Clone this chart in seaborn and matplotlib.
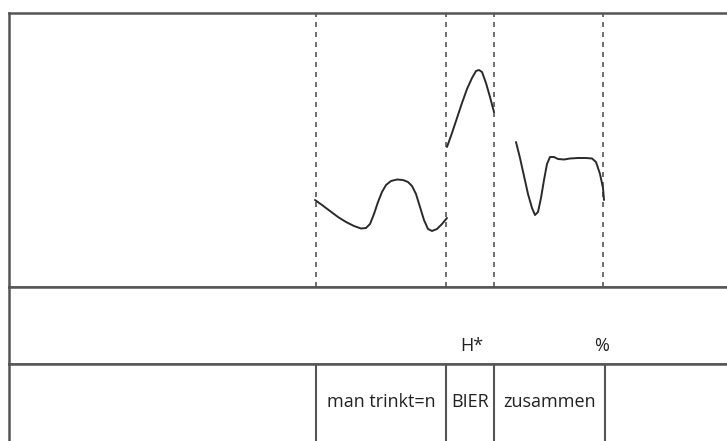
import numpy as np
import pandas as pd
import matplotlib
matplotlib.use("Agg")
import matplotlib.pyplot as plt
import seaborn as sns

sns.set_theme(style="white")
plt.rcParams['font.family'] = ['Open Sans', 'DejaVu Sans']

# F0 contour (time in ms, pitch in Hz), three voiced stretches
seg1_t = [765, 782.5, 802.5, 822.5, 842.5, 862.5, 880, 892.5, 902.5, 912.5, 922.5, 932.5, 942.5,
          955, 970, 985, 997.5, 1007.5, 1017.5, 1027.5, 1037.5, 1047.5, 1057.5, 1070, 1082.5, 1095]
seg1_f = [137, 132, 126, 120, 115, 111, 108.5, 109, 113, 123, 135, 145, 152,
          156, 157.5, 157, 155, 151, 143, 130, 117, 108, 106, 108, 113, 119]
seg2_t = [1095, 1107.5, 1120, 1132.5, 1145, 1157.5, 1167.5, 1175, 1182.5, 1192.5, 1202.5, 1212.5]
seg2_f = [190, 204, 219, 234, 248, 259, 266, 267, 265, 254, 240, 225]
seg3_t = [1267.5, 1277.5, 1287.5, 1297.5, 1307.5, 1315, 1322.5, 1330, 1337.5, 1345, 1352.5, 1362.5,
          1372.5, 1387.5, 1402.5, 1422.5, 1442.5, 1457.5, 1467.5, 1477.5, 1485, 1487.5]
seg3_f = [195, 179, 161, 143, 129, 122, 125, 139, 157, 173, 180, 180,
          178, 177.5, 178.5, 179, 179, 178.5, 175, 163, 149, 137]

# word boundaries (ms) and labels
word_bounds = [767.5, 1092.5, 1212.5, 1490]
words = ["man trinkt=n", "BIER", "zusammen"]
dash_times = [767.5, 1092.5, 1212.5, 1485]

# tones
tone_times = [1157.5, 1482.5]
tones = ["H*", "%"]

t_max = 1815
f_min, f_max = 50, 324

df = pd.DataFrame({
    "t": seg1_t + seg2_t + seg3_t,
    "f0": seg1_f + seg2_f + seg3_f,
    "seg": [1] * len(seg1_t) + [2] * len(seg2_t) + [3] * len(seg3_t),
})

W, H = 727, 441
fig = plt.figure(figsize=(W / 100, H / 100), dpi=100)
fig.patch.set_facecolor("white")

def fr(x0, y0, x1, y1):
    return [x0 / W, 1 - y1 / H, (x1 - x0) / W, (y1 - y0) / H]

frame_col = "#555555"
ax = fig.add_axes(fr(9, 13, 735, 287))
ax_tone = fig.add_axes(fr(9, 287, 735, 364))
ax_word = fig.add_axes(fr(9, 364, 735, 452))

for a in (ax, ax_tone, ax_word):
    a.set_xlim(0, t_max)
    a.set_xticks([])
    a.set_yticks([])
    a.set_xlabel("")
    a.set_ylabel("")
    a.set_facecolor("white")
    for s in a.spines.values():
        s.set_color(frame_col)
        s.set_linewidth(1.8)

ax.set_ylim(f_min, f_max)
for t in dash_times:
    ax.axvline(t, color="#555555", lw=1.2, linestyle=(0, (3, 3)))
sns.lineplot(data=df, x="t", y="f0", units="seg", estimator=None, sort=False,
             color="#2a2a2a", lw=1.4, ax=ax, legend=False)
ax.set_xlabel("")
ax.set_ylabel("")
ax.set_xticks([])
ax.set_yticks([])

ax_tone.set_ylim(0, 1)
for t, lab in zip(tone_times, tones):
    ax_tone.text(t, 0.24, lab, ha="center", va="center", fontsize=13, color="#222222")

ax_word.set_ylim(0, 1)
for b in word_bounds:
    ax_word.axvline(b, color=frame_col, lw=1.5)
for i, w in enumerate(words):
    c = (word_bounds[i] + word_bounds[i + 1]) / 2
    ax_word.text(c, 0.57, w, ha="center", va="center", fontsize=13, color="#222222")

fig.savefig("out.png", dpi=100, facecolor="white")
